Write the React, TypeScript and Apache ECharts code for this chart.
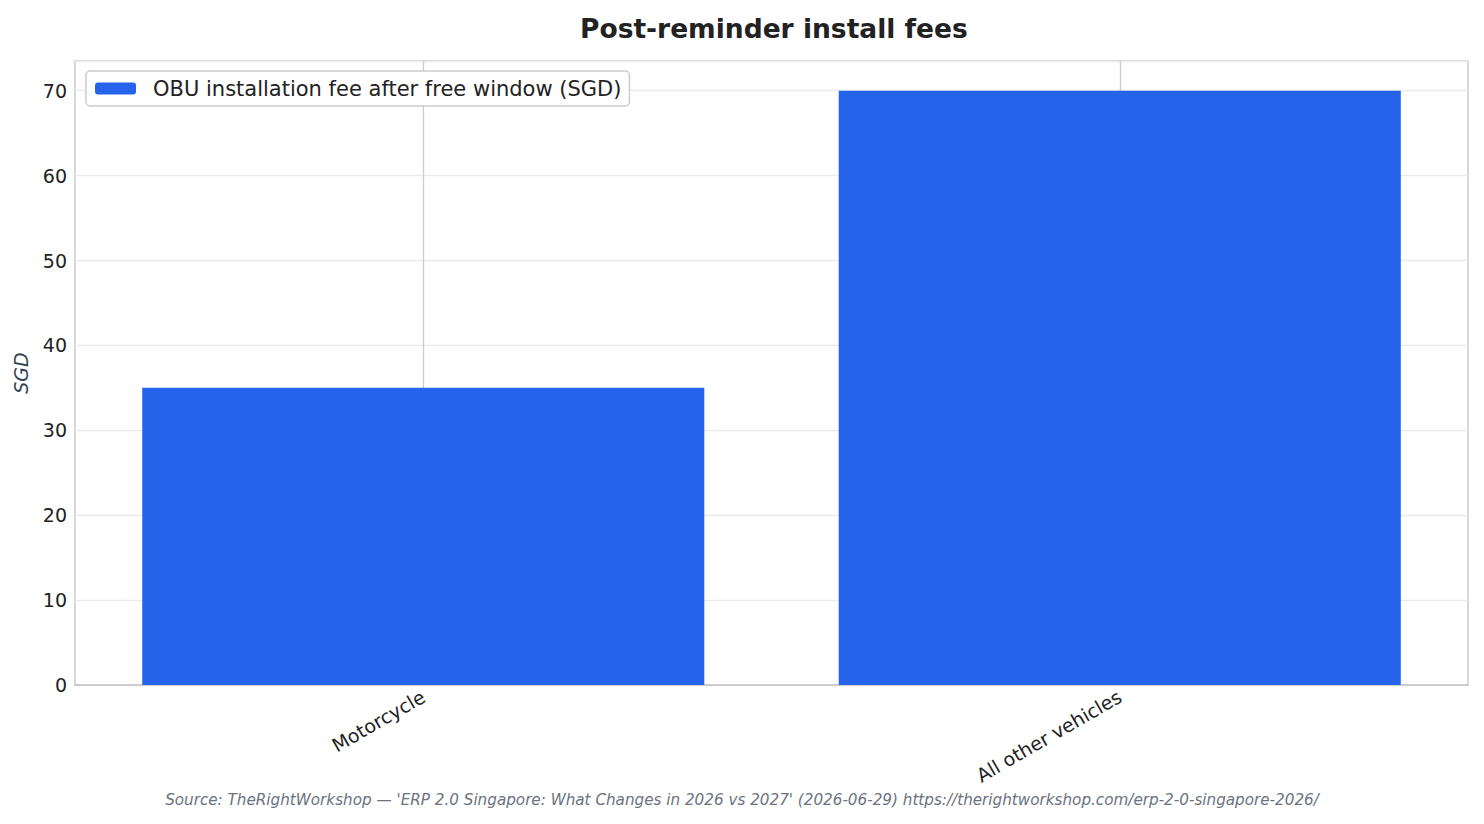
import React, { useEffect, useRef } from "react";
import * as echarts from "echarts";

const categories = ["Motorcycle", "All other vehicles"];
const feeValues = [35, 70];
const seriesName = "OBU installation fee after free window (SGD)";
const titleText = "Post-reminder install fees";
const yAxisName = "SGD";
const sourceText =
  "Source: TheRightWorkshop — 'ERP 2.0 Singapore: What Changes in 2026 vs 2027' (2026-06-29) https://therightworkshop.com/erp-2-0-singapore-2026/";

const FONT = "DejaVu Sans, Noto Sans, sans-serif";

export default function App() {
  const ref = useRef<HTMLDivElement>(null);
  useEffect(() => {
    if (!ref.current) return;
    const chart = echarts.init(ref.current, null, { renderer: "svg" });
    chart.setOption({
      animation: false,
      backgroundColor: "#ffffff",
      textStyle: { fontFamily: FONT },
      title: {
        text: titleText,
        left: 575,
        top: 10,
        textStyle: { fontFamily: FONT, fontSize: 26.5, fontWeight: "bold", color: "#222222" },
      },
      legend: {
        left: 86,
        top: 71,
        orient: "horizontal",
        backgroundColor: "#ffffff",
        borderColor: "#cccccc",
        borderWidth: 1.5,
        borderRadius: 4,
        padding: [7, 8, 7, 9],
        itemWidth: 41,
        itemHeight: 12,
        itemGap: 10,
        textStyle: { fontFamily: FONT, fontSize: 21, color: "#222222", padding: [0, 0, 0, 12] },
        data: [seriesName],
      },
      grid: {
        left: 75,
        right: 16,
        top: 61,
        bottom: 139,
        show: true,
        borderColor: "#cccccc",
        borderWidth: 1.5,
        backgroundColor: "transparent",
        containLabel: false,
      },
      xAxis: {
        type: "category",
        data: categories,
        boundaryGap: true,
        axisLine: { show: true, lineStyle: { color: "#cccccc", width: 2 } },
        axisTick: { show: false, alignWithLabel: true },
        axisLabel: {
          rotate: 30,
          fontFamily: FONT,
          fontSize: 19,
          color: "#222222",
          margin: 10,
          interval: 0,
        },
        splitLine: {
          show: true,
          alignWithLabel: true,
          lineStyle: { color: "#cccccc", width: 1.3 },
        },
      },
      yAxis: {
        type: "value",
        min: 0,
        max: 73.5,
        interval: 10,
        name: yAxisName,
        nameLocation: "middle",
        nameGap: 45,
        nameRotate: 90,
        nameTextStyle: { fontFamily: FONT, fontSize: 19, fontStyle: "italic", color: "#334155" },
        axisLine: { show: false },
        axisTick: { show: false },
        axisLabel: {
          fontFamily: FONT,
          fontSize: 19,
          color: "#222222",
          margin: 8,
          showMaxLabel: false,
        },
        splitLine: { show: true, lineStyle: { color: "#ebebeb", width: 1.3 } },
      },
      series: [
        {
          name: seriesName,
          type: "bar",
          data: feeValues,
          barWidth: "80.7%",
          itemStyle: { color: "#2563eb" },
          z: 3,
        },
      ],
      graphic: [
        {
          type: "text",
          left: "center",
          top: 792,
          style: {
            text: sourceText,
            fontFamily: FONT,
            fontSize: 15.2,
            fontStyle: "italic",
            fill: "#6b7280",
          },
        },
      ],
    });
    return () => chart.dispose();
  }, []);
  return (
    <div
      ref={ref}
      style={{ position: "fixed", left: 0, top: 0, width: 1484, height: 824 }}
    />
  );
}
